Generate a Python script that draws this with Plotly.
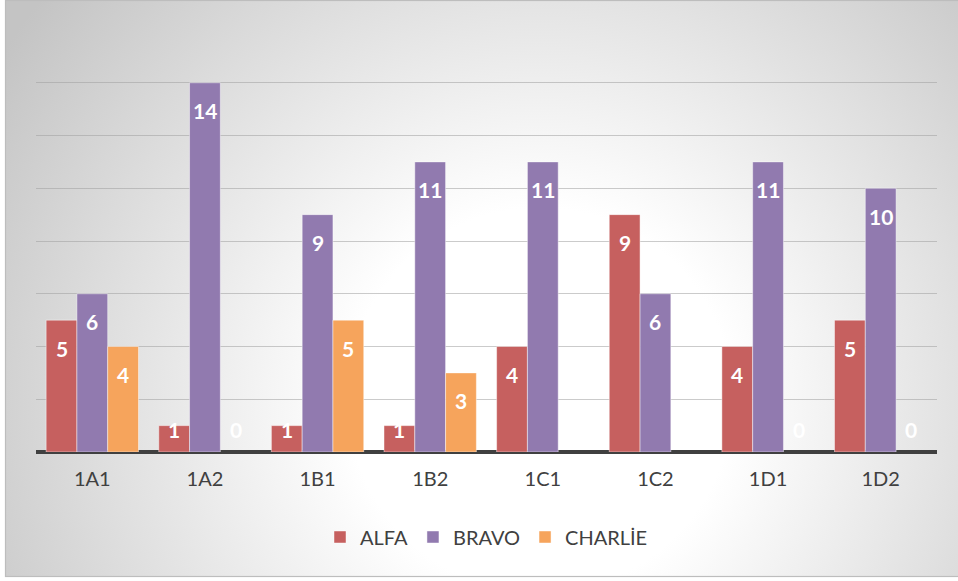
import base64
import plotly.graph_objects as go

categories = ["1A1", "1A2", "1B1", "1B2", "1C1", "1C2", "1D1", "1D2"]
alfa = [5, 1, 1, 1, 4, 9, 4, 5]
bravo = [6, 14, 9, 11, 11, 6, 11, 10]
charlie = [4, 0, 5, 3, None, 0, 0, 0]
series_names = ["ALFA", "BRAVO", "CHARLİE"]
series_values = [alfa, bravo, charlie]
colors = ["rgb(198,96,95)", "rgb(145,122,175)", "rgb(246,164,92)"]

W, H = 958, 581
L, R, T, B = 36, 21, 30, 129
PW, PH = W - L - R, H - T - B
YMAX = 16

svg = f'''<svg xmlns="http://www.w3.org/2000/svg" width="{W}" height="{H}" viewBox="0 0 {W} {H}">
<defs><radialGradient id="g" gradientUnits="userSpaceOnUse" cx="540" cy="400" r="640">
<stop offset="0" stop-color="#ffffff"/><stop offset="0.3" stop-color="#ffffff"/>
<stop offset="1" stop-color="#c4c4c4"/></radialGradient></defs>
<rect x="0" y="0" width="{W}" height="{H}" fill="#ffffff"/>
<rect x="5.5" y="0.5" width="{W}" height="576" fill="url(#g)" stroke="#bdbdbd" stroke-width="1.2"/>
</svg>'''
src = "data:image/svg+xml;base64," + base64.b64encode(svg.encode()).decode()

fig = go.Figure()
for name, vals, col in zip(series_names, series_values, colors):
    fig.add_trace(go.Bar(
        name=name, x=categories, y=vals,
        marker=dict(color=col,
                    line=dict(color="rgba(255,255,255,0.45)",
                              width=[0 if not v else 1 for v in vals])),
        hoverinfo="x+y+name",
    ))

unit = PH / YMAX
annotations = []
for si, vals in enumerate(series_values):
    for ci, v in enumerate(vals):
        if v is None:
            continue
        if v * unit >= 52:
            y, shift = v, -28
        else:
            y, shift = 0, 23
        annotations.append(dict(
            x=categories[ci], y=y, xref="x", yref="y", text=f"<b>{v}</b>",
            showarrow=False, yshift=shift, xshift=(si - 1) * 30.8,
            font=dict(family="Lato", size=21, color="white"),
        ))

fig.update_layout(
    width=W, height=H,
    margin=dict(l=L, r=R, t=T, b=B, pad=0),
    paper_bgcolor="white", plot_bgcolor="rgba(0,0,0,0)",
    barmode="group", bargap=0.18, bargroupgap=0.0,
    font=dict(family="Lato", size=20, color="#404040"),
    images=[dict(source=src, xref="paper", yref="paper",
                 x=-L / PW, y=1 + T / PH, sizex=W / PW, sizey=H / PH,
                 xanchor="left", yanchor="top", sizing="stretch", layer="below")],
    annotations=annotations,
    legend=dict(orientation="h", x=0.5, xanchor="center", y=(-(537 - 452) / PH), yanchor="middle",
                font=dict(family="Lato", size=20, color="#404040"), bgcolor="rgba(0,0,0,0)",
                itemclick=False, itemdoubleclick=False),
    showlegend=True,
)
fig.update_xaxes(showgrid=False, showline=False, ticks="", tickfont=dict(size=20, color="#404040"),
                 ticklabelstandoff=13)
fig.update_yaxes(range=[0, YMAX], dtick=2, showgrid=True, gridcolor="rgba(160,160,160,0.55)", gridwidth=1.3,
                 showticklabels=False, zeroline=True, zerolinecolor="#404040", zerolinewidth=3.5,
                 fixedrange=True)

fig.write_html("out.html")
